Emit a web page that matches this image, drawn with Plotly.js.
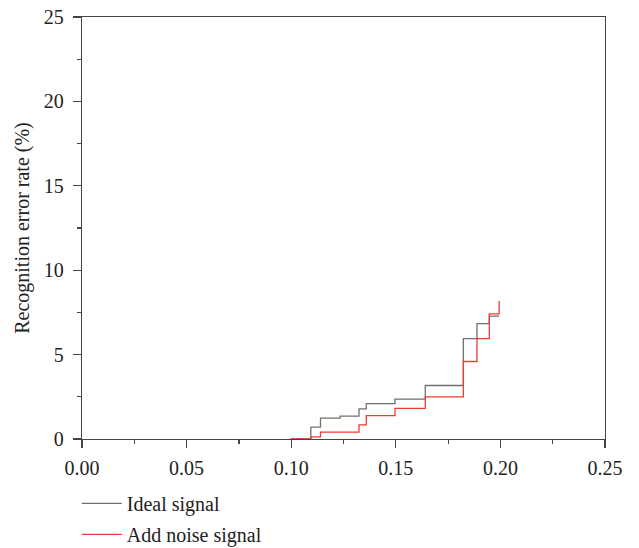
<!DOCTYPE html>
<html>
<head>
<meta charset="utf-8">
<script src="https://cdn.plot.ly/plotly-3.0.1.min.js"></script>
<style>html,body{margin:0;padding:0;background:#fff;}#chart{width:639px;height:548px;}</style>
</head>
<body>
<div id="chart"></div>
<script>
// Data
const seriesNames = ["Ideal signal", "Add noise signal"];
const idealX = [0.100, 0.1094, 0.1140, 0.1234, 0.1324, 0.1359, 0.1496, 0.1641, 0.1823, 0.1888, 0.1947, 0.1994];
const idealY = [0.00, 0.70, 1.24, 1.36, 1.79, 2.09, 2.36, 3.17, 5.95, 6.84, 7.28, 7.28];
const noiseX = [0.0995, 0.1094, 0.1140, 0.1324, 0.1359, 0.1496, 0.1641, 0.1823, 0.1888, 0.1947, 0.1994];
const noiseY = [0.00, 0.13, 0.41, 0.84, 1.38, 1.81, 2.49, 4.59, 5.95, 7.41, 8.18];
const xTicks = [0.00, 0.05, 0.10, 0.15, 0.20, 0.25];
const xTickText = ["0.00", "0.05", "0.10", "0.15", "0.20", "0.25"];
const yTicks = [0, 5, 10, 15, 20, 25];

const FONT = "Liberation Serif, Times New Roman, serif";

const traces = [
  {x: idealX, y: idealY, name: seriesNames[0], type: "scatter", mode: "lines",
   line: {shape: "hv", color: "#707070", width: 1.3}, legendgroup: "a"},
  {x: noiseX, y: noiseY, name: seriesNames[1], type: "scatter", mode: "lines",
   line: {shape: "hv", color: "#ee3b33", width: 1.3}, legendgroup: "b"}
];

const axisCommon = {
  showline: true, mirror: true, linecolor: "#444", linewidth: 1.3,
  ticks: "outside", ticklen: 8, tickwidth: 1.3, tickcolor: "#444",
  showgrid: false, zeroline: false,
  tickfont: {family: FONT, size: 20, color: "#222"},
  minor: {ticks: "outside", ticklen: 4, tickwidth: 1.2, tickcolor: "#444", showgrid: false}
};

const layout = {
  width: 639, height: 548,
  margin: {l: 82, r: 34, t: 17, b: 108.5, pad: 0, autoexpand: false},
  paper_bgcolor: "#fff", plot_bgcolor: "#fff",
  font: {family: FONT, size: 20, color: "#222"},
  showlegend: true,
  legend: {x: -0.01, xanchor: "left", yref: "container", y: 0.117, yanchor: "top",
           orientation: "v", traceorder: "grouped", tracegroupgap: 2, itemwidth: 40,
           font: {family: FONT, size: 20, color: "#222"}, bgcolor: "rgba(0,0,0,0)"},
  xaxis: Object.assign({}, axisCommon, {
    range: [0, 0.25], tickvals: xTicks, ticktext: xTickText,
    minor: Object.assign({}, axisCommon.minor, {dtick: 0.025, tick0: 0}),
    ticklabelstandoff: 3
  }),
  yaxis: Object.assign({}, axisCommon, {
    range: [0, 25], tickvals: yTicks,
    minor: Object.assign({}, axisCommon.minor, {dtick: 2.5, tick0: 0}),
    ticklabelstandoff: 5,
    title: {text: "Recognition error rate (%)", font: {family: FONT, size: 20, color: "#222"}, standoff: 8}
  })
};

Plotly.newPlot("chart", traces, layout, {displayModeBar: false, staticPlot: true});
</script>
</body>
</html>
